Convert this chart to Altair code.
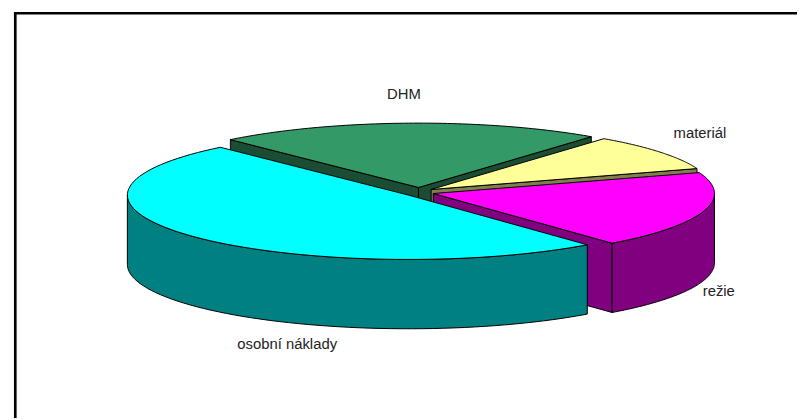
import math
import altair as alt

# Values
names = ["DHM", "materiál", "režie", "osobní náklady"]
shares = [22.2, 9.2, 19.3, 49.3]
top_colors = ["#339966", "#FFFF99", "#FF00FF", "#00FFFF"]
wall_colors = ["#1A4D33", "#80804D", "#800080", "#008080"]
explode = [15, 15, 15, 14]
label_x = [408, 707, 726, 290]
label_y = [93, 132, 292, 345]

# Layout
W, H = 797, 412
OFF = 8
CX, CY, RX, RY, DEPTH = 423.2, 192, 284, 65, 70
EXPLODE_Y = 0.32
START = 132.0


def page(x, y):
    return [x - OFF, y - OFF]


def pt(c, a, dy=0):
    r = math.radians(a)
    return (c[0] + RX * math.cos(r), c[1] - RY * math.sin(r) + dy)


def feature(points, fill, stroke="#000000", sw=1.0):
    ring = [page(*p) for p in points]
    ring.append(ring[0])
    return {
        "type": "Feature",
        "geometry": {"type": "Polygon", "coordinates": [ring]},
        "properties": {"fill": fill, "stroke": stroke, "sw": sw},
    }


# page-sized backdrop, and the two visible edges of the frame
features = [
    feature([(OFF, OFF), (OFF + W, OFF), (OFF + W, OFF + H), (OFF, OFF + H)], "#FFFFFF", "#FFFFFF", 0),
    feature([(14, 10), (805, 10), (805, 12.6), (14, 12.6)], "#000000", "#000000", 0),
    feature([(14, 10), (16.7, 10), (16.7, 420), (14, 420)], "#000000", "#000000", 0),
]
a = START
for name, s, top, wall, e in zip(names, shares, top_colors, wall_colors, explode):
    a0, a1 = a, a - s * 3.6  # clockwise
    a = a1
    mid = (a0 + a1) / 2
    mr = math.radians(mid)
    c = (CX + e * math.cos(mr), CY - e * EXPLODE_Y * math.sin(mr))
    # radial side walls that face the viewer
    for edge in (a0, a1):
        t = math.radians(edge)
        line_y = math.cos(mr) * math.tan(t)
        if math.sin(mr) > line_y:
            p = pt(c, edge)
            features.append(feature([c, p, (p[0], p[1] + DEPTH), (c[0], c[1] + DEPTH)], wall))
    # outer wall: part of the arc on the near half
    lo_n, hi_n = max(a1, -180), min(a0, 0)
    if lo_n < hi_n:
        n = 60
        arc = [lo_n + (hi_n - lo_n) * i / n for i in range(n + 1)]
        features.append(feature([pt(c, q) for q in arc] + [pt(c, q, DEPTH) for q in reversed(arc)], wall))
    # top face
    n = 80
    arc = [a0 + (a1 - a0) * i / n for i in range(n + 1)]
    features.append(feature([c] + [pt(c, q) for q in arc], top))

proj = alt.Projection(type="identity", scale=1, translate=[0, 0], reflectY=False)

shapes = (
    alt.Chart(alt.Data(values=features, format=alt.DataFormat(type="json")))
    .mark_geoshape()
    .encode(
        fill=alt.Fill("properties.fill:N", scale=None),
        stroke=alt.Stroke("properties.stroke:N", scale=None),
        strokeWidth=alt.StrokeWidth("properties.sw:Q", scale=None),
    )
    .project(**proj.to_dict())
)

labels = (
    alt.Chart(alt.Data(values=[
        {"name": n, "lon": x - OFF, "lat": y - OFF} for n, x, y in zip(names, label_x, label_y)
    ]))
    .mark_text(font="Liberation Sans", fontSize=15, color="#222222", align="center", baseline="middle")
    .encode(longitude="lon:Q", latitude="lat:Q", text="name:N")
    .project(**proj.to_dict())
)

chart = (
    alt.layer(shapes, labels)
    .properties(width=W, height=H, padding=0, autosize=alt.AutoSizeParams(type="none"))
    .configure_view(stroke=None)
)
chart.save("out.html", embed_options={"renderer": "svg", "actions": False})
